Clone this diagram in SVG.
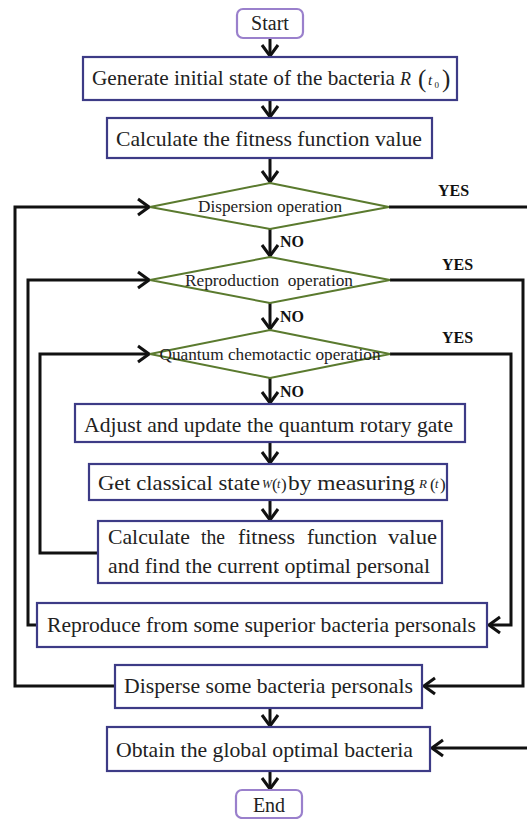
<svg xmlns="http://www.w3.org/2000/svg" width="527" height="819" viewBox="0 0 527 819">
<style>
.box{fill:#fff;stroke:#3d3b86;stroke-width:2.2}
.term{fill:#fff;stroke:#9a80cc;stroke-width:2.2}
.dia{fill:#fff;stroke:#5a7a2e;stroke-width:2}
.t{font-family:'Liberation Serif','DejaVu Serif','Noto Serif',serif;fill:#222;font-size:22px}
.d{font-family:'Liberation Serif','DejaVu Serif','Noto Serif',serif;fill:#222;font-size:17px}
.lbl{font-family:'Liberation Serif','DejaVu Serif','Noto Serif',serif;fill:#111;font-size:16px;font-weight:bold}
.it{font-style:italic}
.c{fill:none;stroke:#111;stroke-width:3;stroke-linejoin:miter}
</style>
<defs>
<marker id="ah" viewBox="-13 -10 15 20" refX="0" refY="0" markerWidth="15" markerHeight="20" markerUnits="userSpaceOnUse" orient="auto">
<path d="M-11,-8 L0,0 L-11,8" fill="none" stroke="#111" stroke-width="3"/>
</marker>
</defs>

<g id="connectors">
<path class="c" marker-end="url(#ah)" d="M270,38 V56"/>
<path class="c" marker-end="url(#ah)" d="M270,100 V117"/>
<path class="c" marker-end="url(#ah)" d="M270,158 V182"/>
<path class="c" marker-end="url(#ah)" d="M270,229 V256"/>
<path class="c" marker-end="url(#ah)" d="M270,303 V329"/>
<path class="c" marker-end="url(#ah)" d="M270,378 V403"/>
<path class="c" marker-end="url(#ah)" d="M270,442 V463"/>
<path class="c" marker-end="url(#ah)" d="M270,500 V520"/>
<path class="c" marker-end="url(#ah)" d="M98,553 H40 V354 H149"/>
<path class="c" marker-end="url(#ah)" d="M37,625 H28 V280 H149"/>
<path class="c" marker-end="url(#ah)" d="M115,686 H15 V207 H149"/>
<path class="c" marker-end="url(#ah)" d="M390,354 H511 V625 H489"/>
<path class="c" marker-end="url(#ah)" d="M390,280 H523 V686 H424"/>
<path class="c" marker-end="url(#ah)" d="M389,207 H531 V748 H432"/>
<path class="c" marker-end="url(#ah)" d="M270,708 V726"/>
<path class="c" marker-end="url(#ah)" d="M270,771 V789"/>
<text class="lbl" x="280" y="247">NO</text>
<text class="lbl" x="280" y="322">NO</text>
<text class="lbl" x="280" y="397">NO</text>
<text class="lbl" x="438" y="196">YES</text>
<text class="lbl" x="442" y="270">YES</text>
<text class="lbl" x="442" y="343">YES</text>
</g>

<g id="start">
<rect class="term" x="237" y="9" width="66" height="29" rx="6"/>
<text class="t" x="270" y="30" text-anchor="middle" style="font-size:20px">Start</text>
</g>

<g id="init">
<rect class="box" x="83" y="57" width="374" height="43"/>
<text class="t" x="92" y="85" textLength="303" lengthAdjust="spacingAndGlyphs">Generate initial state of the bacteria</text>
<text class="t it" x="400" y="85" style="font-size:18px">R</text>
<text class="t" x="418" y="87" style="font-size:25px">(</text>
<text class="t it" x="428" y="85" style="font-size:15px">t</text>
<text class="t" x="434.5" y="88" style="font-size:9px">0</text>
<text class="t" x="442" y="87" style="font-size:25px">)</text>
</g>

<g id="fitness1">
<rect class="box" x="107" y="118" width="325" height="40"/>
<text class="t" x="116" y="146" textLength="306" lengthAdjust="spacingAndGlyphs">Calculate the fitness function value</text>
</g>

<g id="dispersion">
<polygon class="dia" points="270,183 389,207 270,229 150,207"/>
<text class="d" x="270" y="212" text-anchor="middle" textLength="144" lengthAdjust="spacingAndGlyphs">Dispersion operation</text>
</g>

<g id="reproduction">
<polygon class="dia" points="270,257 390,280 270,303 150,280"/>
<text class="d" x="269" y="286" text-anchor="middle" textLength="168" lengthAdjust="spacingAndGlyphs" xml:space="preserve">Reproduction  operation</text>
</g>

<g id="chemotactic">
<polygon class="dia" points="270,330 390,354 270,378 150,354"/>
<text class="d" x="270" y="360" text-anchor="middle" textLength="221" lengthAdjust="spacingAndGlyphs">Quantum chemotactic operation</text>
</g>

<g id="adjust">
<rect class="box" x="75" y="404" width="390" height="38"/>
<text class="t" x="84" y="432" textLength="369" lengthAdjust="spacingAndGlyphs">Adjust and update the quantum rotary gate</text>
</g>

<g id="measure">
<rect class="box" x="89" y="464" width="358" height="36"/>
<text class="t" x="98" y="490" textLength="162" lengthAdjust="spacingAndGlyphs">Get classical state</text>
<text class="t it" x="262" y="488" style="font-size:12px">W</text>
<text class="t" x="272" y="490" style="font-size:17px">(</text>
<text class="t it" x="277" y="488" style="font-size:12px">t</text>
<text class="t" x="281" y="490" style="font-size:17px">)</text>
<text class="t" x="288" y="490" textLength="127" lengthAdjust="spacingAndGlyphs">by measuring</text>
<text class="t it" x="419" y="488" style="font-size:13px">R</text>
<text class="t" x="430" y="490" style="font-size:17px">(</text>
<text class="t it" x="435" y="488" style="font-size:12px">t</text>
<text class="t" x="440" y="490" style="font-size:17px">)</text>
</g>

<g id="fitness2">
<rect class="box" x="98" y="521" width="344" height="62"/>
<text class="t" y="544"><tspan x="108" textLength="82" lengthAdjust="spacingAndGlyphs">Calculate</tspan><tspan x="201" textLength="24" lengthAdjust="spacingAndGlyphs">the</tspan><tspan x="238" textLength="57" lengthAdjust="spacingAndGlyphs">fitness</tspan><tspan x="307" textLength="70" lengthAdjust="spacingAndGlyphs">function</tspan><tspan x="388" textLength="49" lengthAdjust="spacingAndGlyphs">value</tspan></text>
<text class="t" x="108" y="573" textLength="322" lengthAdjust="spacingAndGlyphs">and find the current optimal personal</text>
</g>

<g id="reproduce">
<rect class="box" x="37" y="603" width="450" height="44"/>
<text class="t" x="47" y="632" textLength="429" lengthAdjust="spacingAndGlyphs">Reproduce from some superior bacteria personals</text>
</g>

<g id="disperse">
<rect class="box" x="115" y="665" width="307" height="43"/>
<text class="t" x="124" y="693" textLength="289" lengthAdjust="spacingAndGlyphs">Disperse some bacteria personals</text>
</g>

<g id="obtain">
<rect class="box" x="107" y="727" width="323" height="44"/>
<text class="t" x="116" y="757" textLength="297" lengthAdjust="spacingAndGlyphs">Obtain the global optimal bacteria</text>
</g>

<g id="end">
<rect class="term" x="236" y="790" width="66" height="28" rx="6"/>
<text class="t" x="269" y="812" text-anchor="middle" style="font-size:20px">End</text>
</g>
</svg>
